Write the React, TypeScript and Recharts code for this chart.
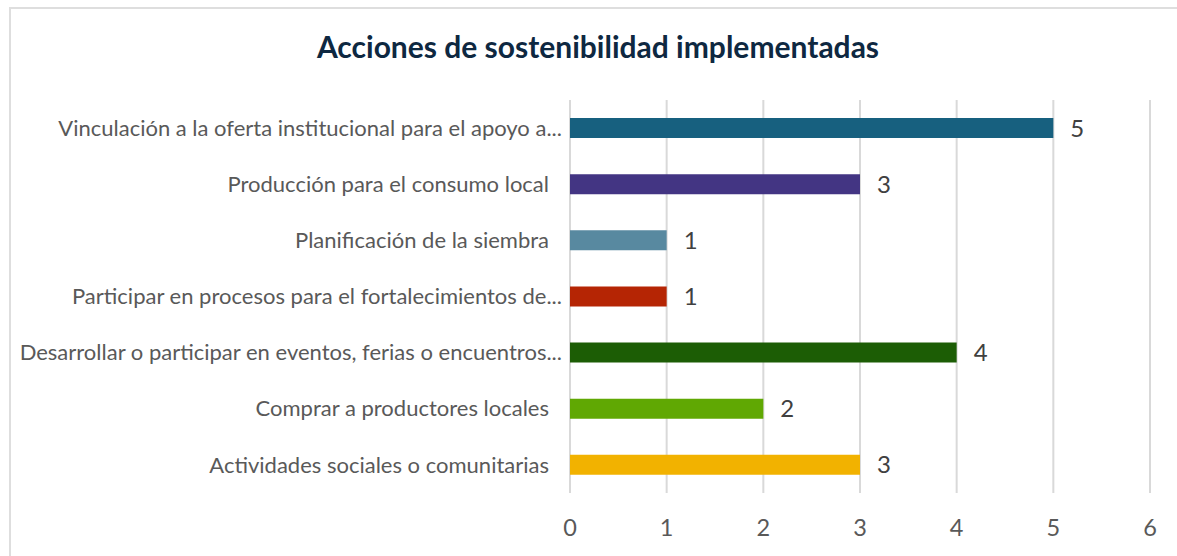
import * as React from 'react';
import { Bar, BarChart, CartesianGrid, Cell, LabelList, XAxis, YAxis } from 'recharts';

const categories = [
  'Vinculación a la oferta institucional para el apoyo a...',
  'Producción para el consumo local ',
  'Planificación de la siembra ',
  'Participar en procesos para el fortalecimientos de...',
  'Desarrollar o participar en eventos, ferias o encuentros...',
  'Comprar a productores locales ',
  'Actividades sociales o comunitarias ',
];
const values = [5, 3, 1, 1, 4, 2, 3];
const barColors = ['#17607F', '#433583', '#5889A0', '#B52504', '#1C5D05', '#60A803', '#F2B200'];
const xTicks = [0, 1, 2, 3, 4, 5, 6];

const data = categories.map((name, i) => ({ name, value: values[i] }));

const FONT = 'Lato, "Open Sans", sans-serif';

function CategoryTick(props: any): React.ReactElement {
  const { x, y, payload } = props;
  const label: string = payload.value;
  const truncated = label.endsWith('...');
  return (
    <text
      x={x - (truncated ? 2 : 15)}
      y={y}
      dy="0.35em"
      textAnchor="end"
      fill="#595959"
      fontSize={22}
      fontFamily={FONT}
    >
      {label.trim()}
    </text>
  );
}

export default function App(): React.ReactElement {
  return (
    <div
      style={{
        position: 'absolute',
        left: 0,
        top: 0,
        width: 1177,
        height: 556,
        overflow: 'hidden',
        background: '#ffffff',
        fontFamily: FONT,
      }}
    >
      <div
        style={{
          position: 'absolute',
          left: 9,
          top: 7,
          width: 1200,
          height: 600,
          borderLeft: '2px solid #dedede',
          borderTop: '2px solid #dedede',
        }}
      />
      <div
        style={{
          position: 'absolute',
          left: 0,
          width: 1196,
          top: 28,
          textAlign: 'center',
          fontSize: 30,
          fontWeight: 700,
          color: '#0E2841',
        }}
      >
        Acciones de sostenibilidad implementadas
      </div>
      <div style={{ position: 'absolute', left: 0, top: 0 }}>
        <BarChart
          width={1177}
          height={556}
          data={data}
          layout="vertical"
          margin={{ top: 100, right: 27, bottom: 0, left: 0 }}
          barCategoryGap={0}
        >
          <CartesianGrid horizontal={false} stroke="#d9d9d9" strokeWidth={2} />
          <XAxis
            type="number"
            domain={[0, 6]}
            ticks={xTicks}
            axisLine={false}
            tickLine={false}
            height={63}
            tickMargin={20}
            tick={{ fontSize: 23.5, fill: '#595959', fontFamily: FONT }}
          />
          <YAxis
            type="category"
            dataKey="name"
            width={570}
            axisLine={false}
            tickLine={false}
            tickMargin={0}
            tick={<CategoryTick />}
            interval={0}
          />
          <Bar dataKey="value" barSize={20} isAnimationActive={false}>
            {data.map((d, i) => (
              <Cell key={d.name} fill={barColors[i]} />
            ))}
            <LabelList
              dataKey="value"
              position="right"
              offset={17}
              fill="#404040"
              fontSize={24}
              fontFamily={FONT}
            />
          </Bar>
        </BarChart>
      </div>
    </div>
  );
}
